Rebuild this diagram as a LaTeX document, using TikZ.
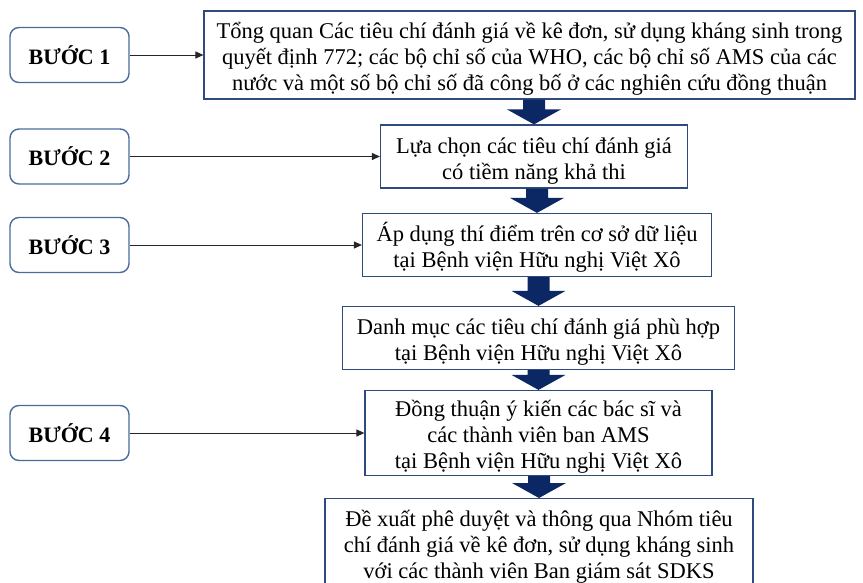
\documentclass[tikz,border=0pt]{standalone}
\usepackage{fontspec}
\setmainfont{Liberation Serif}
\usepackage{tikz}
\usetikzlibrary{calc,arrows.meta}

\definecolor{boxline}{HTML}{2F4A7C}
\definecolor{stepline}{HTML}{4A6B9C}
\definecolor{arrowblue}{HTML}{0B2865}

% struts that push the text a little below the middle of a box
\newcommand{\linetop}{\rule{0pt}{26pt}}
\newcommand{\linebot}{\rule[-7pt]{0pt}{7pt}}

\tikzset{
  stepnode/.style={draw=stepline, line width=1.4pt, rounded corners=9pt,
    minimum width=119pt, minimum height=55pt, inner sep=0pt,
    font=\fontsize{22}{26}\selectfont\bfseries},
  taskbox/.style={draw=boxline, line width=1.2pt, align=center, inner sep=0pt,
    font=\fontsize{22.5}{26}\selectfont},
  feed/.style={draw=black!85, line width=1pt, -{Triangle[length=8pt,width=7pt]}}
}

% block arrow from the bottom of one box to the top of the next
\newcommand{\flowarrow}[2]{%
  \fill[arrowblue] ($(#1.south -| #2.north)+(-11,0)$) -- ($(#1.south -| #2.north)+(11,0)$)
    -- ($(#2.north)+(11,-15)$) -- ($(#2.north)+(27,-15)$) -- (#2.north)
    -- ($(#2.north)+(-27,-15)$) -- ($(#2.north)+(-11,-15)$) -- cycle;}

\begin{document}
\begin{tikzpicture}[x=1pt, y=-1pt]
  \path[use as bounding box] (0,0) rectangle (863,582);
  % Main boxes
  \node[taskbox, minimum width=651pt, minimum height=88pt] (tongquan) at (529.5,55)
    {\linetop Tổng quan Các tiêu chí đánh giá về kê đơn, sử dụng kháng sinh trong\\
     quyết định 772; các bộ chỉ số của WHO, các bộ chỉ số AMS của các\\
     nước và một số bộ chỉ số đã công bố ở các nghiên cứu đồng thuận\linebot};
  \node[taskbox, minimum width=307pt, minimum height=63pt] (luachon) at (534,156.5)
    {\linetop Lựa chọn các tiêu chí đánh giá\\ có tiềm năng khả thi\linebot};
  \node[taskbox, minimum width=349pt, minimum height=63pt] (apdung) at (537,245)
    {\linetop Áp dụng thí điểm trên cơ sở dữ liệu\\ tại Bệnh viện Hữu nghị Việt Xô\linebot};
  \node[taskbox, minimum width=392pt, minimum height=63pt] (danhmuc) at (538.5,338)
    {\linetop Danh mục các tiêu chí đánh giá phù hợp\\ tại Bệnh viện Hữu nghị Việt Xô\linebot};
  \node[taskbox, minimum width=347pt, minimum height=80pt] (dongthuan) at (538.5,433)
    {\linetop Đồng thuận ý kiến các bác sĩ và\\ các thành viên ban AMS\\ tại Bệnh viện Hữu nghị Việt Xô\linebot};
  % last box runs off the bottom edge
  \node[taskbox, minimum width=428pt, minimum height=88pt, anchor=north] (dexuat) at (539,498)
    {\linetop Đề xuất phê duyệt và thông qua Nhóm tiêu\\ chí đánh giá về kê đơn, sử dụng kháng sinh\\ với các thành viên Ban giám sát SDKS\linebot};
  % Step labels
  \node[stepnode] (buoc1) at (69.5,55) {BƯỚC 1};
  \node[stepnode] (buoc2) at (69.5,156.5) {BƯỚC 2};
  \node[stepnode] (buoc3) at (69.5,245) {BƯỚC 3};
  \node[stepnode] (buoc4) at (69.5,433) {BƯỚC 4};
  % Step arrows
  \draw[feed] (buoc1) -- (tongquan);
  \draw[feed] (buoc2) -- (luachon);
  \draw[feed] (buoc3) -- (apdung);
  \draw[feed] (buoc4) -- (dongthuan);
  % Block arrows down the column
  \flowarrow{tongquan}{luachon}
  \flowarrow{luachon}{apdung}
  \flowarrow{apdung}{danhmuc}
  \flowarrow{danhmuc}{dongthuan}
  \flowarrow{dongthuan}{dexuat}
\end{tikzpicture}
\end{document}
